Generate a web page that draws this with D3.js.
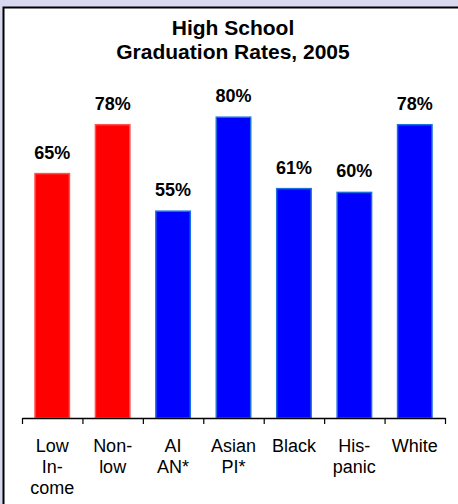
<!DOCTYPE html>
<html><head><meta charset="utf-8">
<script src="https://cdn.jsdelivr.net/npm/d3@7"></script>
<style>html,body{margin:0;padding:0;background:#d8d8f0;}svg{display:block;}</style>
</head><body>
<script>
const categories = ["Low\nIn-\ncome", "Non-\nlow", "AI\nAN*", "Asian\nPI*", "Black", "His-\npanic", "White"];
const values = [65, 78, 55, 80, 61, 60, 78];
const groups = ["income", "income", "race", "race", "race", "race", "race"];
const titleLines = ["High School", "Graduation Rates, 2005"];

const W = 458, H = 504;
const svg = d3.select("body").append("svg").attr("width", W).attr("height", H);
svg.append("rect").attr("x", 0).attr("y", 0).attr("width", W).attr("height", H).attr("fill", "#d8d8f0");
svg.append("rect").attr("x", 3).attr("y", 7).attr("width", W - 3).attr("height", H - 7).attr("fill", "#fff");
svg.append("path").attr("d", `M3.5,${H} V7.5 H${W}`).attr("fill", "none").attr("stroke", "#000").attr("stroke-width", 2);

const x = d3.scaleBand().domain(categories).range([22, 445]).paddingInner(0.43).paddingOuter(0.215);
const y = d3.scaleLinear().domain([0, 100]).range([418, 42]);
const fill = d3.scaleOrdinal().domain(["income", "race"]).range(["#ff0000", "#0000ff"]);
const stroke = d3.scaleOrdinal().domain(["income", "race"]).range(["#ff5050", "#1a6fe0"]);

const font = "Liberation Sans, Arial, sans-serif";

svg.append("text").attr("x", 233).attr("text-anchor", "middle")
  .attr("font-family", font).attr("font-weight", "bold").attr("font-size", 21).attr("fill", "#000")
  .selectAll("tspan").data(titleLines).join("tspan")
  .attr("x", 233).attr("y", (d, i) => 35 + i * 23.5).text(d => d);

svg.selectAll("rect.bar").data(values).join("rect").attr("class", "bar")
  .attr("x", (d, i) => x(categories[i]))
  .attr("y", d => y(d))
  .attr("width", x.bandwidth())
  .attr("height", d => y(0) - y(d))
  .attr("fill", (d, i) => fill(groups[i]))
  .attr("stroke", (d, i) => stroke(groups[i]))
  .attr("stroke-width", 1.5);

svg.selectAll("text.val").data(values).join("text").attr("class", "val")
  .attr("x", (d, i) => x(categories[i]) + x.bandwidth() / 2)
  .attr("y", d => y(d) - 15)
  .attr("text-anchor", "middle")
  .attr("font-family", font).attr("font-weight", "bold").attr("font-size", 18).attr("fill", "#000")
  .text(d => d + "%");

// axis baseline with ticks at band boundaries
const xAxis = d3.axisBottom(d3.scaleLinear().domain([0, categories.length]).range([22, 445]))
  .ticks(categories.length).tickSize(6).tickFormat("").tickSizeOuter(0);
const ax = svg.append("g").attr("transform", `translate(0,${y(0)})`).call(xAxis);
ax.select(".domain").attr("stroke", "#000").attr("stroke-width", 1.5);
ax.selectAll(".tick line").attr("stroke", "#000").attr("stroke-width", 1.2);

svg.selectAll("text.cat").data(categories).join("text").attr("class", "cat")
  .attr("text-anchor", "middle")
  .attr("font-family", font).attr("font-size", 18).attr("fill", "#000")
  .each(function (d) {
    const cx = x(d) + x.bandwidth() / 2;
    d3.select(this).selectAll("tspan").data(d.split("\n")).join("tspan")
      .attr("x", cx).attr("y", (t, i) => 452 + i * 21).text(t => t);
  });
</script>
</body></html>
